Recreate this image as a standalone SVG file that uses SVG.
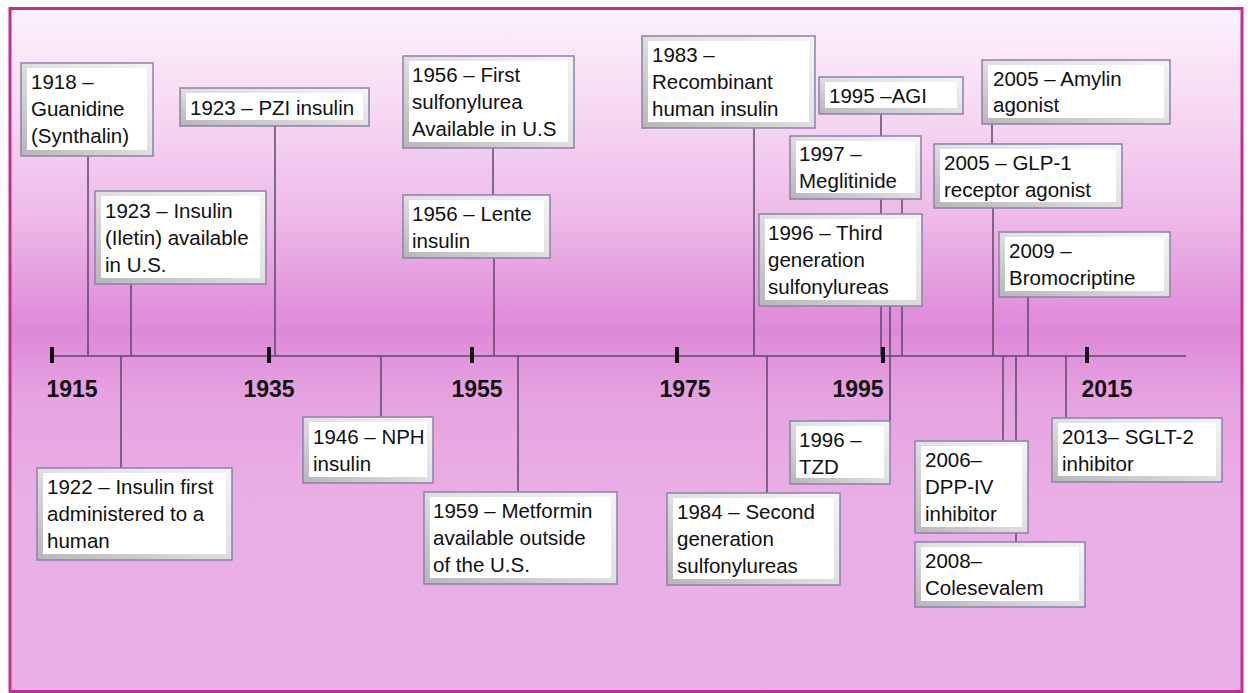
<svg xmlns="http://www.w3.org/2000/svg" width="1248" height="693" viewBox="0 0 1248 693">
<defs>
<linearGradient id="bg" gradientUnits="userSpaceOnUse" x1="0" y1="8" x2="0" y2="692">
<stop offset="0" stop-color="#fcf1fb"/>
<stop offset="0.12" stop-color="#f7def4"/>
<stop offset="0.3" stop-color="#eebbe9"/>
<stop offset="0.47" stop-color="#de88d8"/>
<stop offset="0.57" stop-color="#e6a3e1"/>
<stop offset="0.72" stop-color="#eaaee6"/>
<stop offset="1" stop-color="#eab0e7"/>
</linearGradient>
<linearGradient id="bev" x1="1" y1="0" x2="0" y2="1">
<stop offset="0" stop-color="#f4f4f4"/>
<stop offset="0.45" stop-color="#e2e2e2"/>
<stop offset="1" stop-color="#b6b6b6"/>
</linearGradient>
<style>
.bx{fill:url(#bev);stroke:#8d80aa;stroke-width:1.5}
.in{fill:#ffffff}
.t{font-family:"Liberation Sans",Arial,sans-serif;font-size:20.5px;fill:#111111}
.yr{font-family:"Liberation Sans",Arial,sans-serif;font-size:23px;font-weight:bold;fill:#111111;text-anchor:middle}
.cn{stroke:#5b4868;stroke-width:1.5;fill:none}
.tk{stroke:#111111;stroke-width:4}
</style>
</defs>
<rect x="0" y="0" width="1248" height="693" fill="#ffffff"/>
<rect x="10" y="8.5" width="1232" height="683" fill="url(#bg)" stroke="#c0308c" stroke-width="3"/>

<g id="connectors">
<line class="cn" x1="88" y1="156" x2="88" y2="356"/>
<line class="cn" x1="275" y1="126" x2="275" y2="356"/>
<line class="cn" x1="131" y1="284" x2="131" y2="356"/>
<line class="cn" x1="121" y1="356" x2="121" y2="468"/>
<line class="cn" x1="381" y1="356" x2="381" y2="417"/>
<line class="cn" x1="493" y1="148" x2="493" y2="195"/>
<line class="cn" x1="494" y1="258" x2="494" y2="356"/>
<line class="cn" x1="518" y1="356" x2="518" y2="492"/>
<line class="cn" x1="754" y1="128" x2="754" y2="356"/>
<line class="cn" x1="767" y1="356" x2="767" y2="493"/>
<line class="cn" x1="881" y1="114" x2="881" y2="356"/>
<line class="cn" x1="902" y1="199" x2="902" y2="356"/>
<line class="cn" x1="890" y1="306" x2="890" y2="421"/>
<line class="cn" x1="992" y1="124" x2="992" y2="144"/>
<line class="cn" x1="993" y1="208" x2="993" y2="356"/>
<line class="cn" x1="1028" y1="297" x2="1028" y2="356"/>
<line class="cn" x1="1003" y1="356" x2="1003" y2="441"/>
<line class="cn" x1="1016" y1="356" x2="1016" y2="542"/>
<line class="cn" x1="1066" y1="356" x2="1066" y2="418"/>
</g>

<g id="axis">
<line x1="52" y1="356" x2="1186" y2="356" stroke="#5b4868" stroke-width="1.5"/>
<line class="tk" x1="52" y1="347" x2="52" y2="363"/>
<line class="tk" x1="269" y1="347" x2="269" y2="363"/>
<line class="tk" x1="472" y1="347" x2="472" y2="363"/>
<line class="tk" x1="677" y1="347" x2="677" y2="363"/>
<line class="tk" x1="883" y1="347" x2="883" y2="363"/>
<line class="tk" x1="1087" y1="347" x2="1087" y2="363"/>
<text class="yr" x="72" y="397">1915</text>
<text class="yr" x="269" y="397">1935</text>
<text class="yr" x="477" y="397">1955</text>
<text class="yr" x="685" y="397">1975</text>
<text class="yr" x="858" y="397">1995</text>
<text class="yr" x="1107" y="397">2015</text>
</g>

<g id="n1918">
<rect class="bx" x="21" y="63" width="132" height="93"/>
<rect class="in" x="27" y="68" width="120" height="82"/>
<text class="t" x="31" y="89"><tspan x="31">1918 –</tspan><tspan x="31" dy="27">Guanidine</tspan><tspan x="31" dy="27">(Synthalin)</tspan></text>
</g>
<g id="n1923pzi">
<rect class="bx" x="180" y="88" width="189" height="38"/>
<rect class="in" x="186" y="93" width="177" height="27"/>
<text class="t" x="190" y="115">1923 – PZI insulin</text>
</g>
<g id="n1923iletin">
<rect class="bx" x="95" y="191" width="171" height="93"/>
<rect class="in" x="101" y="196" width="159" height="82"/>
<text class="t" x="105" y="218"><tspan x="105">1923 – Insulin</tspan><tspan x="105" dy="27">(Iletin) available</tspan><tspan x="105" dy="27">in U.S.</tspan></text>
</g>
<g id="n1922">
<rect class="bx" x="37" y="468" width="195" height="92"/>
<rect class="in" x="43" y="473" width="183" height="81"/>
<text class="t" x="47" y="494"><tspan x="47">1922 – Insulin first</tspan><tspan x="47" dy="27">administered to a</tspan><tspan x="47" dy="27">human</tspan></text>
</g>
<g id="n1946">
<rect class="bx" x="303" y="417" width="130" height="66"/>
<rect class="in" x="309" y="422" width="118" height="55"/>
<text class="t" x="313" y="444"><tspan x="313">1946 – NPH</tspan><tspan x="313" dy="27">insulin</tspan></text>
</g>
<g id="n1956first">
<rect class="bx" x="403" y="56" width="171" height="92"/>
<rect class="in" x="409" y="61" width="159" height="81"/>
<text class="t" x="412" y="82"><tspan x="412">1956 – First</tspan><tspan x="412" dy="27">sulfonylurea</tspan><tspan x="412" dy="27">Available in U.S</tspan></text>
</g>
<g id="n1956lente">
<rect class="bx" x="403" y="195" width="147" height="63"/>
<rect class="in" x="409" y="200" width="135" height="52"/>
<text class="t" x="412" y="221"><tspan x="412">1956 – Lente</tspan><tspan x="412" dy="27">insulin</tspan></text>
</g>
<g id="n1959">
<rect class="bx" x="424" y="492" width="193" height="92"/>
<rect class="in" x="430" y="497" width="181" height="81"/>
<text class="t" x="433" y="518"><tspan x="433">1959 – Metformin</tspan><tspan x="433" dy="27">available outside</tspan><tspan x="433" dy="27">of the U.S.</tspan></text>
</g>
<g id="n1983">
<rect class="bx" x="642" y="36" width="173" height="92"/>
<rect class="in" x="648" y="41" width="161" height="81"/>
<text class="t" x="652" y="62"><tspan x="652">1983 –</tspan><tspan x="652" dy="27">Recombinant</tspan><tspan x="652" dy="27">human insulin</tspan></text>
</g>
<g id="n1984">
<rect class="bx" x="667" y="493" width="173" height="92"/>
<rect class="in" x="673" y="498" width="161" height="81"/>
<text class="t" x="677" y="519"><tspan x="677">1984 – Second</tspan><tspan x="677" dy="27">generation</tspan><tspan x="677" dy="27">sulfonylureas</tspan></text>
</g>
<g id="n1995agi">
<rect class="bx" x="819" y="77" width="144" height="37"/>
<rect class="in" x="825" y="82" width="132" height="26"/>
<text class="t" x="829" y="103">1995 –AGI</text>
</g>
<g id="n1997">
<rect class="bx" x="790" y="136" width="131" height="63"/>
<rect class="in" x="796" y="141" width="119" height="52"/>
<text class="t" x="799" y="161"><tspan x="799">1997 –</tspan><tspan x="799" dy="27">Meglitinide</tspan></text>
</g>
<g id="n1996third">
<rect class="bx" x="759" y="214" width="163" height="92"/>
<rect class="in" x="765" y="219" width="151" height="81"/>
<text class="t" x="768" y="240"><tspan x="768">1996 – Third</tspan><tspan x="768" dy="27">generation</tspan><tspan x="768" dy="27">sulfonylureas</tspan></text>
</g>
<g id="n1996tzd">
<rect class="bx" x="790" y="421" width="100" height="63"/>
<rect class="in" x="796" y="426" width="88" height="52"/>
<text class="t" x="799" y="447"><tspan x="799">1996 –</tspan><tspan x="799" dy="27">TZD</tspan></text>
</g>
<g id="n2005amylin">
<rect class="bx" x="982" y="60" width="188" height="64"/>
<rect class="in" x="988" y="65" width="176" height="53"/>
<text class="t" x="993" y="86"><tspan x="993">2005 – Amylin</tspan><tspan x="993" dy="26">agonist</tspan></text>
</g>
<g id="n2005glp">
<rect class="bx" x="934" y="144" width="188" height="64"/>
<rect class="in" x="940" y="149" width="176" height="53"/>
<text class="t" x="944" y="170"><tspan x="944">2005 – GLP-1</tspan><tspan x="944" dy="27">receptor agonist</tspan></text>
</g>
<g id="n2009">
<rect class="bx" x="999" y="232" width="171" height="65"/>
<rect class="in" x="1005" y="237" width="159" height="54"/>
<text class="t" x="1009" y="258"><tspan x="1009">2009 –</tspan><tspan x="1009" dy="27">Bromocriptine</tspan></text>
</g>
<g id="n2006">
<rect class="bx" x="915" y="441" width="113" height="92"/>
<rect class="in" x="921" y="446" width="101" height="81"/>
<text class="t" x="925" y="467"><tspan x="925">2006–</tspan><tspan x="925" dy="27">DPP-IV</tspan><tspan x="925" dy="27">inhibitor</tspan></text>
</g>
<g id="n2008">
<rect class="bx" x="915" y="542" width="170" height="65"/>
<rect class="in" x="921" y="547" width="158" height="54"/>
<text class="t" x="925" y="568"><tspan x="925">2008–</tspan><tspan x="925" dy="27">Colesevalem</tspan></text>
</g>
<g id="n2013">
<rect class="bx" x="1052" y="418" width="170" height="64"/>
<rect class="in" x="1058" y="423" width="158" height="53"/>
<text class="t" x="1062" y="444"><tspan x="1062">2013– SGLT-2</tspan><tspan x="1062" dy="27">inhibitor</tspan></text>
</g>
</svg>
